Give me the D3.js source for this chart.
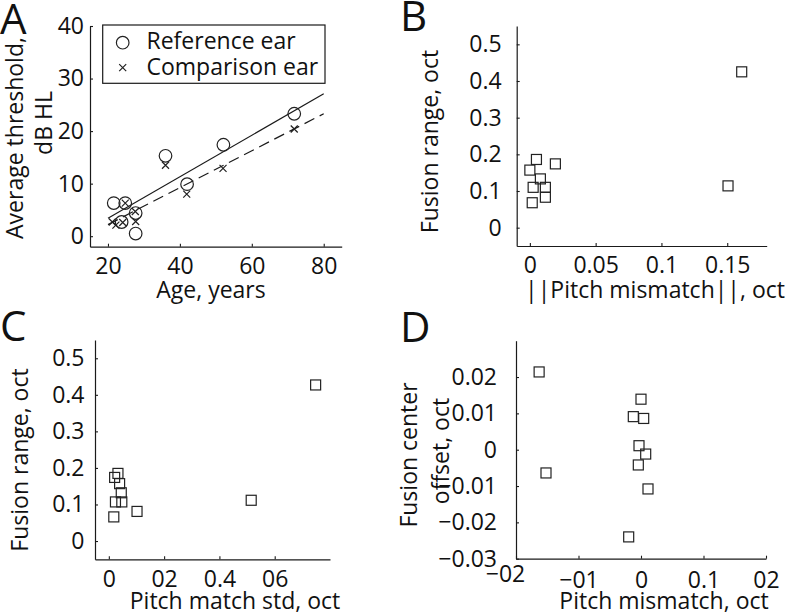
<!DOCTYPE html>
<html><head><meta charset="utf-8">
<script src="https://cdn.jsdelivr.net/npm/d3@7"></script>
<style>
body{margin:0;background:#fff;}
svg text{font-family:"Open Sans",sans-serif;fill:#111;}
</style></head>
<body><svg id="c" width="787" height="615"></svg>
<script>
// ---- Panel A data ----
const refAge = [21.6, 23.8, 24.8, 27.7, 27.7, 36, 42, 52.1, 71.8];
const refThr = [6.3, 2.7, 6.3, 4.4, 0.5, 15.3, 9.9, 17.4, 23.3];
const cmpAge = [21.2, 22.2, 24.1, 24.8, 27.6, 27.7, 36, 41.9, 52, 71.8];
const cmpThr = [2.7, 2.1, 2.6, 6.3, 4.7, 2.8, 13.5, 8.0, 12.9, 20.4];
const fitAge = [20, 80];
const refFit = [3.4, 27.1];
const cmpFit = [2.2, 23.3];
const aXTicks = [20, 40, 60, 80];
const aXLabels = ["20", "40", "60", "80"];
const aYTicks = [0, 10, 20, 30, 40];
const aYLabels = ["0", "10", "20", "30", "40"];
const legendLabels = ["Reference ear", "Comparison ear"];

// ---- Panel B data ----
const absMismatch = [0.161, 0.1506, 0.005, 0.0194, 0.0, 0.008, 0.0025, 0.0118, 0.0118, 0.0018];
const fusionRangeB = [0.425, 0.114, 0.186, 0.174, 0.157, 0.133, 0.110, 0.110, 0.083, 0.068];
const bXTicks = [0, 0.05, 0.1, 0.15];
const bXLabels = ["0", "0.05", "0.1", "0.15"];
const rYTicks = [0, 0.1, 0.2, 0.3, 0.4, 0.5];
const rYLabels = ["0", "0.1", "0.2", "0.3", "0.4", "0.5"];

// ---- Panel C data ----
const matchStd = [0.748, 0.515, 0.102, 0.018, 0.021, 0.033, 0.039, 0.045, 0.024, 0.047];
const fusionRangeC = [0.427, 0.1115, 0.081, 0.066, 0.174, 0.185, 0.157, 0.132, 0.107, 0.107];
const cXTicks = [0, 0.2, 0.4, 0.6];
const cXLabels = ["0", "02", "0.4", "06"];

// ---- Panel D data ----
const mismatch = [-0.163, -0.152, 0.0, -0.0123, 0.0043, -0.0032, 0.0075, -0.0043, 0.0112, -0.0197];
const centerOffset = [0.0214, -0.0064, 0.0139, 0.0091, 0.0086, 0.0011, -0.0012, -0.0042, -0.0108, -0.024];
const dXTicks = [-0.2, -0.1, 0, 0.1, 0.2];
const dXLabels = ["\u221202", "\u221201", "0", "0.1", "02"];
const dYTicks = [-0.03, -0.02, -0.01, 0, 0.01, 0.02];
const dYLabels = ["\u22120.03", "\u22120.02", "\u22120.01", "0", "0.01", "0.02"];

const svg = d3.select("#c");
const INK = "#1a1a1a";
const FS = 23;

function panel(opt){
  const g = svg.append("g");
  const x = d3.scaleLinear().domain(opt.xd).range(opt.xr);
  const y = d3.scaleLinear().domain(opt.yd).range(opt.yr);
  const ax = g.append("g").attr("transform", `translate(0,${opt.yr[0]})`)
    .call(d3.axisBottom(x).tickValues(opt.xt).tickFormat((d,i)=>opt.xl[i]).tickSize(-3).tickSizeOuter(0).tickPadding(opt.xpad));
  const ay = g.append("g").attr("transform", `translate(${opt.xr[0]},0)`)
    .call(d3.axisLeft(y).tickValues(opt.yt).tickFormat((d,i)=>opt.yl[i]).tickSize(-3).tickSizeOuter(0).tickPadding(opt.ypad));
  [ax, ay].forEach(a=>{
    a.select(".domain").attr("stroke", INK).attr("stroke-width", 1.2);
    a.selectAll(".tick line").attr("stroke", INK).attr("stroke-width", 1.1);
    a.selectAll(".tick text").attr("font-size", FS).attr("font-family", "Open Sans").attr("fill", "#111");
  });
  ax.selectAll(".tick text").attr("dy", "0.71em");
  return {g, x, y, ax, ay};
}

function squares(p, xs, ys){
  p.g.selectAll("rect.m").data(xs).enter().append("rect")
    .attr("x", (d)=>p.x(d)-5).attr("y", (d,i)=>p.y(ys[i])-5)
    .attr("width", 10).attr("height", 10)
    .attr("fill", "none").attr("stroke", "#222").attr("stroke-width", 1.2);
}

function text(t, x, y, opts={}){
  const e = svg.append("text").attr("x", x).attr("y", y).text(t)
    .attr("font-size", opts.fs || FS).attr("text-anchor", opts.anchor || "middle");
  if (opts.rot) e.attr("transform", `rotate(-90,${x},${y})`);
  return e;
}

// ---------- Panel A ----------
const A = panel({xd:[15,85], xr:[90,341.7], yd:[-2,40], yr:[246.7,26],
  xt:aXTicks, xl:aXLabels, yt:aYTicks, yl:aYLabels, xpad:11, ypad:6});
const line = d3.line().x(d=>A.x(d[0])).y(d=>A.y(d[1]));
A.g.append("path").attr("d", line(fitAge.map((a,i)=>[a, refFit[i]])))
  .attr("fill","none").attr("stroke", INK).attr("stroke-width", 1.2);
A.g.append("path").attr("d", line(fitAge.map((a,i)=>[a, cmpFit[i]])))
  .attr("fill","none").attr("stroke", INK).attr("stroke-width", 1.2).attr("stroke-dasharray", "11,6");
A.g.selectAll("circle.r").data(refAge).enter().append("circle")
  .attr("cx", d=>A.x(d)).attr("cy", (d,i)=>A.y(refThr[i])).attr("r", 6.3)
  .attr("fill","none").attr("stroke","#222").attr("stroke-width",1.2);
A.g.selectAll("path.x").data(cmpAge).enter().append("path")
  .attr("d", "M-3.5,-3.5L3.5,3.5M-3.5,3.5L3.5,-3.5")
  .attr("transform", (d,i)=>`translate(${A.x(d)},${A.y(cmpThr[i])})`)
  .attr("fill","none").attr("stroke","#222").attr("stroke-width",1.2);
// legend
const lg = A.g.append("g");
lg.append("rect").attr("x",102.7).attr("y",25).attr("width",222.3).attr("height",58.3)
  .attr("fill","#fff").attr("stroke", INK).attr("stroke-width",1.2);
lg.append("circle").attr("cx",122.7).attr("cy",42.7).attr("r",6.3).attr("fill","none").attr("stroke","#222").attr("stroke-width",1.2);
lg.append("path").attr("d","M-3.5,-3.5L3.5,3.5M-3.5,3.5L3.5,-3.5").attr("transform","translate(122.7,67.7)")
  .attr("fill","none").attr("stroke","#222").attr("stroke-width",1.2);
text(legendLabels[0], 146.5, 49, {anchor:"start"});
text(legendLabels[1], 146.5, 74.5, {anchor:"start"});
text("Age, years", 211, 297.5);
text("Average threshold,", 22.5, 138, {rot:true});
text("dB HL", 51.5, 123, {rot:true});
text("A", 0, 33.5, {fs:42, anchor:"start"});

// ---------- Panel B ----------
const B = panel({xd:[-0.01,0.18], xr:[516.7,766.7], yd:[-0.05,0.55], yr:[246,26],
  xt:bXTicks, xl:bXLabels, yt:rYTicks, yl:rYLabels, xpad:10.4, ypad:15});
squares(B, absMismatch, fusionRangeB);
text("||Pitch mismatch||, oct", 785, 297.5, {anchor:"end"});
text("Fusion range, oct", 438, 141.5, {rot:true});
text("B", 400, 30.5, {fs:42, anchor:"start"});

// ---------- Panel C ----------
const C = panel({xd:[-0.05,0.8], xr:[95,330], yd:[-0.05,0.55], yr:[559.3,340],
  xt:cXTicks, xl:cXLabels, yt:rYTicks, yl:rYLabels, xpad:11.7, ypad:10.5});
squares(C, matchStd, fusionRangeC);
text("Pitch match std, oct", 235, 608.5);
text("Fusion range, oct", 27.5, 460, {rot:true});
text("C", 0, 340.5, {fs:42, anchor:"start"});

// ---------- Panel D ----------
const D = panel({xd:[-0.2,0.2], xr:[516,766], yd:[-0.03,0.03], yr:[558.7,340.7],
  xt:dXTicks, xl:dXLabels, yt:dYTicks, yl:dYLabels, xpad:13, ypad:19});
// first x tick label sits nudged up-left in the reference
D.ax.selectAll(".tick text").filter((d,i)=>i===0).attr("dx", -11).attr("y", 7);
squares(D, mismatch, centerOffset);
text("Pitch mismatch, oct", 664, 608.5);
text("Fusion center", 417, 455, {rot:true});
text("offset, oct", 449, 451, {rot:true});
text("D", 400, 341.5, {fs:42, anchor:"start"});
</script></body></html>
